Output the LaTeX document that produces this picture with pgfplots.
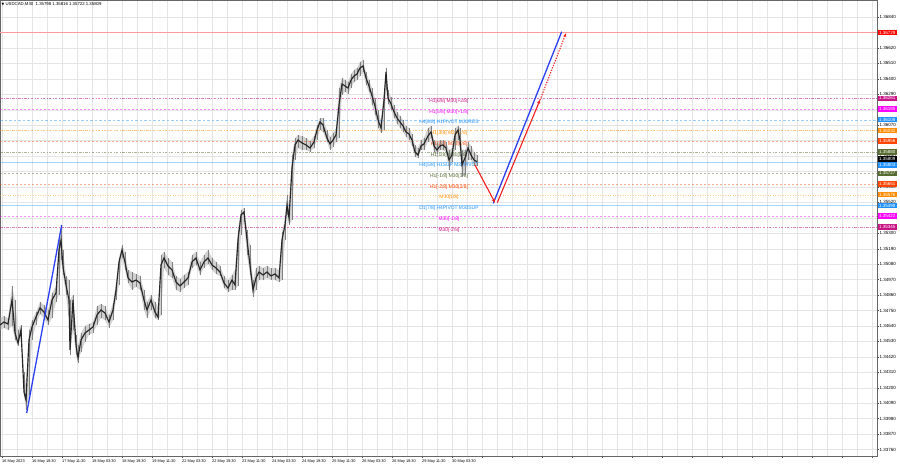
\documentclass[border=0pt]{standalone}
\usepackage{fontspec}
\setmainfont{Liberation Sans}
\newfontfamily\dejavu{DejaVu Sans}
\usepackage{pgfplots}
\pgfplotsset{compat=1.18}
\usepackage{pgfplotstable}
\usepgfplotslibrary{fillbetween}
\usetikzlibrary{arrows.meta}

\definecolor{mvr}{HTML}{C71585}
\definecolor{mag}{HTML}{FF00FF}
\definecolor{dblue}{HTML}{1E90FF}
\definecolor{dorange}{HTML}{FF8C00}
\definecolor{ored}{HTML}{FF4500}
\definecolor{olivegr}{HTML}{556B2F}
\definecolor{lineblue}{HTML}{2B3FF0}
\definecolor{arrred}{HTML}{F01E1E}

\newcommand\pricefont{\fontsize{4.5}{5}\selectfont}
\newcommand\datefont{\fontsize{3.9}{4.5}\selectfont}
\newcommand\lvlfont{\fontsize{4.9}{5.5}\selectfont}
\newcommand\titlefont{\fontsize{4.3}{5}\selectfont}

% candles: x = position, c = close, h = high, l = low
\pgfplotstableread{
x   c       h       l
0   1.34647 1.34696 1.34611
4   1.34668 1.34711 1.34626
8   1.34654 1.34696 1.34611
12  1.34825 1.34925 1.34640
15  1.34590 1.34825 1.34540
18  1.34519 1.34611 1.34498
21  1.34611 1.34647 1.34554
24  1.34170 1.34312 1.34141
26  1.34113 1.34220 1.34042
29  1.34540 1.34611 1.34149
32  1.34633 1.34682 1.34540
36  1.34703 1.34739 1.34647
40  1.34768 1.34811 1.34725
44  1.34739 1.34789 1.34696
48  1.34682 1.34754 1.34647
52  1.34825 1.34875 1.34696
56  1.34875 1.34925 1.34811
59  1.35181 1.35252 1.34861
61  1.35252 1.35345 1.35110
63  1.35060 1.35181 1.35003
66  1.34932 1.34996 1.34861
69  1.34825 1.34967 1.34682
70  1.34469 1.34825 1.34433
73  1.34825 1.34861 1.34611
76  1.34505 1.34576 1.34433
78  1.34412 1.34505 1.34376
81  1.34540 1.34590 1.34455
85  1.34590 1.34640 1.34526
89  1.34611 1.34654 1.34576
93  1.34633 1.34668 1.34590
97  1.34718 1.34782 1.34647
101 1.34754 1.34796 1.34696
105 1.34732 1.34782 1.34682
109 1.34668 1.34718 1.34626
113 1.34754 1.34804 1.34682
116 1.34896 1.34946 1.34825
119 1.35096 1.35124 1.34932
122 1.35181 1.35217 1.35124
125 1.35096 1.35167 1.35039
128 1.34982 1.35039 1.34946
132 1.34953 1.35024 1.34896
136 1.34967 1.35010 1.34918
140 1.34946 1.34996 1.34896
144 1.34825 1.34896 1.34754
147 1.34754 1.34811 1.34696
151 1.34825 1.34861 1.34754
155 1.34739 1.34811 1.34696
158 1.34703 1.34782 1.34682
161 1.35074 1.35145 1.34718
164 1.35124 1.35167 1.35053
168 1.35067 1.35124 1.35003
172 1.35039 1.35096 1.34982
176 1.34953 1.34996 1.34896
180 1.34925 1.34975 1.34882
184 1.34953 1.35003 1.34910
188 1.34982 1.35024 1.34932
192 1.35096 1.35145 1.35053
196 1.35124 1.35167 1.35074
200 1.35039 1.35096 1.35003
204 1.35096 1.35145 1.35053
208 1.35124 1.35181 1.35081
212 1.35074 1.35124 1.35039
216 1.35053 1.35096 1.35010
220 1.35024 1.35067 1.34996
224 1.34946 1.34996 1.34910
228 1.34910 1.34967 1.34882
232 1.34967 1.35003 1.34896
235 1.34932 1.35039 1.34896
238 1.35252 1.35323 1.34925
241 1.35430 1.35466 1.35288
244 1.35452 1.35480 1.35380
247 1.35252 1.35323 1.35145
250 1.35074 1.35217 1.35003
253 1.34896 1.34967 1.34846
256 1.34982 1.35053 1.34896
259 1.35024 1.35067 1.34967
263 1.35003 1.35053 1.34967
267 1.35024 1.35067 1.34982
271 1.34996 1.35053 1.34967
275 1.35010 1.35053 1.34967
279 1.34982 1.35039 1.34953
282 1.35252 1.35309 1.34967
285 1.35359 1.35409 1.35252
287 1.35501 1.35573 1.35430
289 1.35409 1.35501 1.35359
292 1.35765 1.35857 1.35395
295 1.35929 1.35978 1.35822
298 1.35964 1.36000 1.35907
302 1.35943 1.35993 1.35893
306 1.35929 1.35978 1.35893
310 1.35907 1.35957 1.35879
314 1.35950 1.35993 1.35907
317 1.36035 1.36071 1.35964
320 1.36092 1.36121 1.36035
323 1.36071 1.36121 1.36021
327 1.35978 1.36035 1.35950
330 1.35936 1.35986 1.35893
333 1.35964 1.36014 1.35914
336 1.36000 1.36050 1.35950
339 1.36213 1.36334 1.35978
342 1.36363 1.36406 1.36285
345 1.36349 1.36391 1.36306
348 1.36334 1.36377 1.36292
351 1.36391 1.36434 1.36334
354 1.36420 1.36463 1.36377
357 1.36434 1.36477 1.36391
360 1.36477 1.36520 1.36420
363 1.36491 1.36534 1.36448
366 1.36406 1.36448 1.36356
369 1.36349 1.36391 1.36306
372 1.36278 1.36334 1.36213
375 1.36206 1.36263 1.36142
378 1.36107 1.36178 1.36050
381 1.36050 1.36107 1.36014
384 1.36249 1.36306 1.36035
386 1.36448 1.36477 1.36320
388 1.36263 1.36320 1.36221
391 1.36221 1.36270 1.36178
394 1.36164 1.36213 1.36121
397 1.36121 1.36164 1.36078
400 1.36092 1.36135 1.36050
403 1.36064 1.36107 1.36021
406 1.36021 1.36064 1.35986
409 1.36007 1.36050 1.35964
412 1.35964 1.36007 1.35922
415 1.35879 1.35929 1.35843
418 1.35857 1.35907 1.35836
421 1.35922 1.35964 1.35893
424 1.35936 1.35978 1.35893
428 1.35993 1.36050 1.35950
431 1.36021 1.36064 1.35978
434 1.35922 1.35964 1.35879
437 1.35893 1.35943 1.35865
440 1.35922 1.35964 1.35893
443 1.35929 1.35964 1.35893
446 1.35907 1.35950 1.35879
449 1.35822 1.35893 1.35751
452 1.35857 1.35907 1.35808
455 1.36000 1.36050 1.35893
458 1.36035 1.36064 1.35964
460 1.35964 1.36050 1.35893
462 1.35786 1.35893 1.35701
465 1.35836 1.35893 1.35715
468 1.35907 1.35950 1.35822
471 1.35857 1.35922 1.35822
474 1.35822 1.35879 1.35779
477 1.35809 1.35857 1.35779
}\ohlc

% level line + centred label + price box on the right scale (#6 = box shift)
\newcommand{\lvl}[6]{%
  \addplot[#2, #3, forget plot] coordinates {(0,#1) (877,#1)};
  \node[text=#2, font=\lvlfont, anchor=north, inner sep=0.4pt] at (axis cs:449,#1) {#4};
  \node[on layer=axis foreground, fill=#2, text=white, font=\pricefont, anchor=west,
        inner sep=0.3pt, minimum width=19pt, minimum height=5.4pt, yshift=#6] at (axis cs:877.6,#1) {#5};
}

\begin{document}
\begin{tikzpicture}
\begin{axis}[
    set layers,
    at={(0pt,12pt)}, anchor=south west,
    width=877pt, height=456pt, scale only axis,
    xmin=0, xmax=877,
    ymin=1.33714, ymax=1.36961,
    clip=false,
    axis line style={black!60, line width=0.4pt},
    tick align=outside,
    major tick length=2pt,
    minor tick length=0pt,
    tick style={black!70, line width=0.3pt},
    xtick={2,32,...,872},
    minor x tick num=1,
    xticklabels={16 May 2023,16 May 19:30,17 May 11:30,18 May 03:30,18 May 19:30,19 May 11:30,22 May 03:30,22 May 19:30,23 May 11:30,24 May 03:30,24 May 19:30,25 May 11:30,26 May 03:30,26 May 19:30,29 May 11:30,30 May 03:30,{},{},{},{},{},{},{},{},{},{},{},{},{},{}},
    xticklabel style={font=\datefont, anchor=north west, inner sep=0.5pt, xshift=-0.5pt, yshift=-0.8pt},
    ytick={1.3376,1.3387,1.3398,1.3409,1.3420,1.3431,1.3442,1.3453,1.3464,1.3475,1.3486,1.3497,1.3508,1.3519,1.3530,1.3541,1.3552,1.3563,1.3574,1.3585,1.3596,1.3607,1.3618,1.3629,1.3640,1.3651,1.3662,1.3673,1.3684},
    yticklabels={1.33760,1.33870,1.33980,1.34090,1.34200,1.34310,1.34420,1.34530,1.34640,1.34750,1.34860,1.34970,1.35080,1.35190,1.35300,1.35410,1.35520,1.35630,{},1.35850,1.35960,1.36070,1.36180,1.36290,1.36400,1.36510,1.36620,1.36730,1.36840},
    yticklabel pos=right,
    yticklabel style={font=\pricefont, anchor=west, inner sep=0.5pt},
    grid=both,
    major grid style={black!10, line width=0.3pt},
    minor grid style={black!10, line width=0.3pt},
]
% target line
\addplot[red!40, line width=0.9pt, forget plot] coordinates {(0,1.36729) (877,1.36729)};
\node[on layer=axis foreground, fill=red, text=white, font=\pricefont, anchor=west,
      inner sep=0.3pt, minimum width=19pt, minimum height=5.4pt] at (axis cs:877.6,1.36729) {1.36729};

\lvl{1.36261}{mvr}{opacity=0.55, line width=0.5pt, dash pattern=on 2.5pt off 1.5pt on 0.6pt off 1.5pt}{H1[6/8] M30[+2/8]}{1.36261}{0pt}
\lvl{1.36184}{mag}{opacity=0.45, line width=0.5pt, dash pattern=on 2pt off 2pt}{H1[5/8] M30[+1/8]}{1.36185}{0pt}
\lvl{1.36108}{dblue}{opacity=0.45, line width=0.5pt, dash pattern=on 2.5pt off 2pt}{H4[8/8] H1PIVOT M30RES}{1.36108}{0pt}
\lvl{1.36032}{dorange}{opacity=0.5, line width=0.5pt, dash pattern=on 2.5pt off 1.5pt on 0.6pt off 1.5pt}{H1[3/8] M30[7/8]}{1.36032}{0pt}
\lvl{1.35956}{ored}{opacity=0.45, line width=0.5pt, dash pattern=on 2pt off 2pt}{H1[2/8] M30[6/8]}{1.35956}{0pt}
\lvl{1.35879}{olivegr}{opacity=0.5, line width=0.5pt, dash pattern=on 2.5pt off 1.5pt on 0.6pt off 1.5pt}{H1[1/8] M30[5/8]}{1.35880}{0pt}
\node[on layer=axis foreground, fill=black, text=white, font=\pricefont, anchor=west,
      inner sep=0.3pt, minimum width=19pt, minimum height=5.4pt, yshift=2.9pt] at (axis cs:877.6,1.35809) {1.35809};
\lvl{1.35803}{dblue}{opacity=0.4, line width=0.8pt}{H4[5/8] H1SUP M30PIVOT}{1.35803}{-2.5pt}
\lvl{1.35727}{olivegr}{opacity=0.45, line width=0.5pt, dash pattern=on 2pt off 2pt}{H1[-1/8] M30[3/8]}{1.35727}{0pt}
\lvl{1.35651}{ored}{opacity=0.45, line width=0.5pt, dash pattern=on 2pt off 2pt}{H1[-2/8] M30[2/8]}{1.35651}{0pt}
\lvl{1.35574}{dorange}{opacity=0.45, line width=0.5pt, dash pattern=on 1pt off 1.5pt}{M30[1/8]}{1.35576}{0pt}
\lvl{1.35498}{dblue}{opacity=0.4, line width=0.9pt}{D1[7/8] H4PIVOT M30SUP}{1.35498}{0pt}
\lvl{1.35422}{mag}{opacity=0.45, line width=0.5pt, dash pattern=on 2pt off 2pt}{M30[-1/8]}{1.35422}{0pt}
\lvl{1.35345}{mvr}{opacity=0.55, line width=0.5pt, dash pattern=on 2.5pt off 1.5pt on 0.6pt off 1.5pt}{M30[-2/8]}{1.35345}{0pt}

% candles
\addplot[name path=H, draw=none, forget plot] table[x=x, y=h] {\ohlc};
\addplot[name path=L, draw=none, forget plot] table[x=x, y=l] {\ohlc};
\addplot[black!18, forget plot] fill between[of=H and L];
\addplot[draw=none, forget plot, error bars/.cd, y dir=both, y explicit,
    error bar style={black!50, line width=0.7pt}, error mark=none]
    table[x=x, y=c, y error plus expr=\thisrow{h}-\thisrow{c}, y error minus expr=\thisrow{c}-\thisrow{l}] {\ohlc};
\addplot[black!85, line width=1.15pt, forget plot] table[x=x, y=c] {\ohlc};

% trend lines and forecast arrows
\addplot[lineblue, line width=1.3pt] coordinates {(26.7,1.34020) (61.7,1.35359)};
\addplot[lineblue, line width=1.3pt] coordinates {(493.3,1.35513) (561.7,1.36735)};
\addplot[arrred, line width=1.1pt, -{Stealth[length=4pt,width=3.5pt]}] coordinates {(475,1.35786) (495,1.35518)};
\addplot[arrred, line width=1.1pt, -{Stealth[length=4pt,width=3.5pt]}] coordinates {(497.3,1.35518) (540,1.36249)};
\addplot[arrred, line width=1.1pt, dash pattern=on 1.2pt off 1.4pt, -{Stealth[length=4pt,width=3.5pt]}] coordinates {(540,1.36249) (566,1.36724)};

\node[on layer=axis foreground, anchor=north west, font=\titlefont, inner sep=0pt, xshift=1.5pt, yshift=-2.8pt]
    at (rel axis cs:0,1) {{\dejavu\fontsize{3.5}{4}\selectfont ▼}\ USDCAD,M30\ \ 1.35798 1.35816 1.35722 1.35809};
\end{axis}
\pgfresetboundingbox
\useasboundingbox (0,0) rectangle (900pt,468pt);
\end{tikzpicture}
\end{document}
